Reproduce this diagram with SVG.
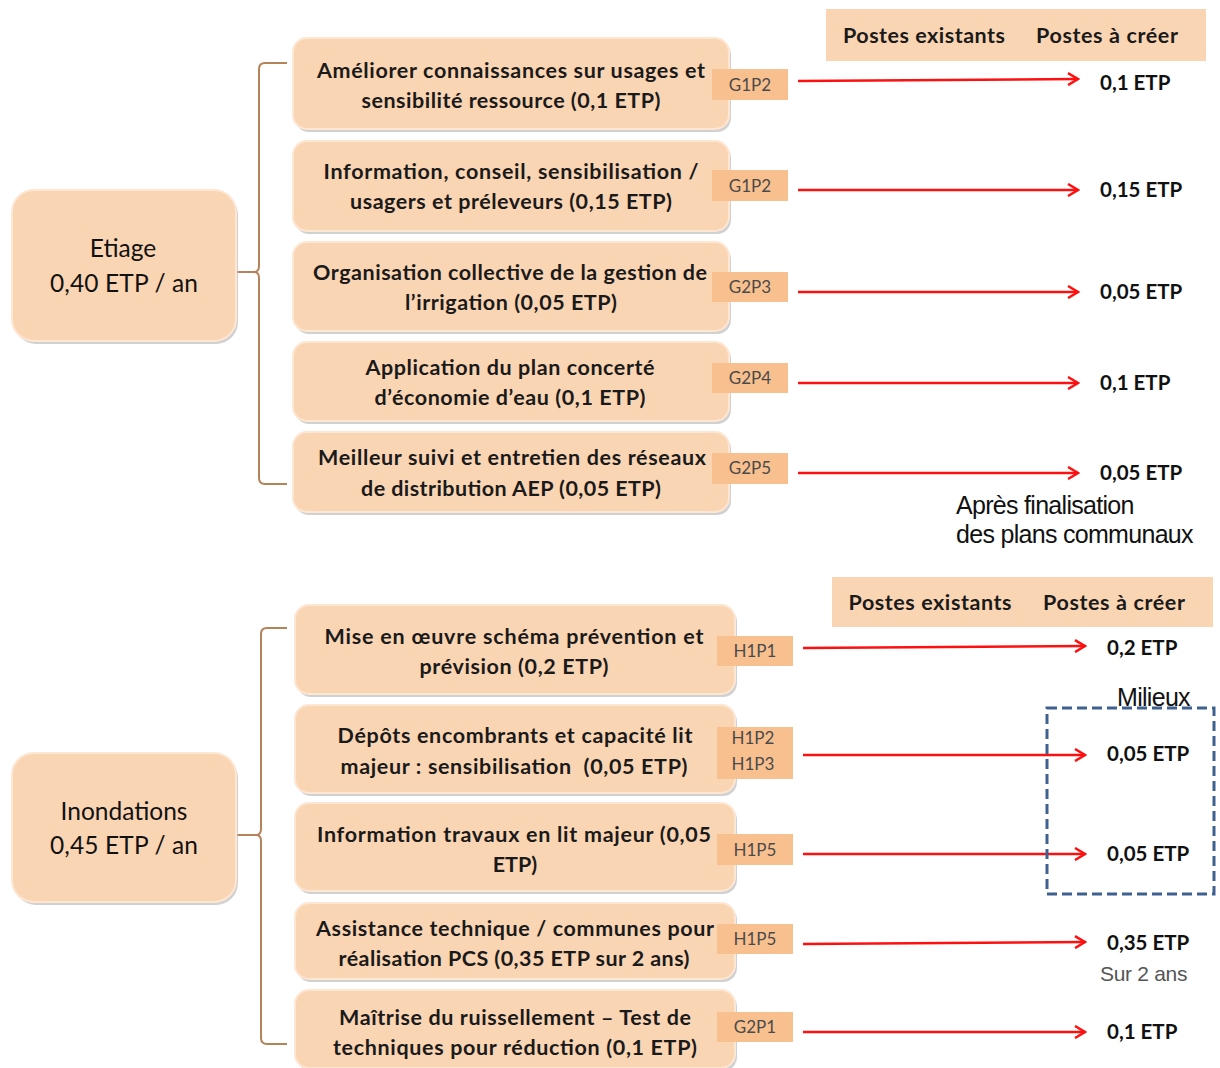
<svg xmlns="http://www.w3.org/2000/svg" width="1220" height="1068" viewBox="0 0 1220 1068">
  <defs>
    <style>
      .box { fill: #FAD5B4; stroke: #FDE6D2; stroke-width: 2; }
      .shadow { fill: #BDBDBD; opacity: 0.7; }
      .tag { fill: #F9C08F; }
      .hdr { fill: #FAD5B4; }
      .t { font-family: Lato, "Liberation Sans", sans-serif; font-weight: bold; font-size: 21.5px; fill: #1a1a1a; text-anchor: middle; }
      .big { font-family: Lato, "Liberation Sans", sans-serif; font-size: 24.5px; fill: #111; text-anchor: middle; }
      .code { font-family: Lato, "Liberation Sans", sans-serif; font-size: 17px; fill: #4a4a4a; text-anchor: middle; }
      .val { font-family: Lato, "Liberation Sans", sans-serif; font-weight: bold; font-size: 20.5px; fill: #111; }
      .note { font-family: "Liberation Sans", Arial, sans-serif; font-size: 25px; fill: #111; letter-spacing: -0.7px; }
      .small { font-family: "Liberation Sans", Arial, sans-serif; font-size: 21px; fill: #555; letter-spacing: -0.3px; }
      .bracket { fill: none; stroke: #B5835A; stroke-width: 2; }
      .arrow { fill: none; stroke: #FF1010; stroke-width: 2.5; marker-end: url(#head); }
    </style>
    <marker id="head" viewBox="0 0 14 14" refX="12" refY="7" markerWidth="14" markerHeight="14" markerUnits="userSpaceOnUse" orient="auto">
      <path d="M2,1 L12,7 L2,13" fill="none" stroke="#FF1010" stroke-width="2.5"/>
    </marker>
  </defs>

  <rect width="1220" height="1068" fill="#ffffff"/>

  <!-- column headers -->
  <g id="header-etiage">
    <rect class="hdr" x="826" y="9" width="380" height="52"/>
    <text class="t" x="924" y="43" textLength="162">Postes existants</text>
    <text class="t" x="1107" y="43" textLength="142">Postes à créer</text>
  </g>
  <g id="header-inondations">
    <rect class="hdr" x="832" y="577" width="381" height="50"/>
    <text class="t" x="930" y="610" textLength="163">Postes existants</text>
    <text class="t" x="1114" y="610" textLength="142">Postes à créer</text>
  </g>

  <!-- connectors -->
  <g id="connectors">
    <path class="bracket" d="M287,63 L265,63 Q259,63 259,69 L259,266 Q259,272 254,272 L236,272 M254,272 Q259,272 259,278 L259,478 Q259,484 265,484 L287,484"/>
    <path class="bracket" d="M287,628 L267,628 Q261,628 261,634 L261,829 Q261,835 256,835 L236,835 M256,835 Q261,835 261,841 L261,1038 Q261,1044 267,1044 L287,1044"/>
    <line class="arrow" x1="798" y1="81" x2="1078" y2="79"/>
    <line class="arrow" x1="798" y1="190" x2="1078" y2="190"/>
    <line class="arrow" x1="798" y1="292" x2="1078" y2="292"/>
    <line class="arrow" x1="798" y1="383" x2="1078" y2="383"/>
    <line class="arrow" x1="798" y1="473" x2="1078" y2="473"/>
    <line class="arrow" x1="803" y1="648" x2="1085" y2="646"/>
    <line class="arrow" x1="803" y1="755" x2="1085" y2="755"/>
    <line class="arrow" x1="803" y1="854" x2="1085" y2="854"/>
    <line class="arrow" x1="803" y1="944" x2="1085" y2="942"/>
    <line class="arrow" x1="803" y1="1032" x2="1085" y2="1032"/>
  </g>

  <!-- Etiage -->
  <g id="etiage">
    <rect class="shadow" x="14" y="193" width="224" height="151" rx="22"/>
    <rect class="box" x="12" y="190" width="224" height="151" rx="22"/>
    <text class="big" x="123" y="257">Etiage</text>
    <text class="big" x="124" y="292" textLength="148">0,40 ETP / an</text>
  </g>

  <g id="e1">
    <rect class="shadow" x="295" y="41" width="436" height="91" rx="14"/>
    <rect class="box" x="293" y="38" width="436" height="91" rx="14"/>
    <text class="t" x="511" y="78" textLength="388">Améliorer connaissances sur usages et</text>
    <text class="t" x="511" y="108" textLength="299">sensibilité ressource (0,1 ETP)</text>
    <rect class="tag" x="712" y="69" width="76" height="31"/>
    <text class="code" x="750" y="91">G1P2</text>
  </g>
  <g id="e2">
    <rect class="shadow" x="295" y="144" width="436" height="90" rx="14"/>
    <rect class="box" x="293" y="141" width="436" height="90" rx="14"/>
    <text class="t" x="511" y="179" textLength="375">Information, conseil, sensibilisation /</text>
    <text class="t" x="511" y="209" textLength="322">usagers et préleveurs (0,15 ETP)</text>
    <rect class="tag" x="712" y="170" width="76" height="31"/>
    <text class="code" x="750" y="192">G1P2</text>
  </g>
  <g id="e3">
    <rect class="shadow" x="295" y="245" width="436" height="89" rx="14"/>
    <rect class="box" x="293" y="242" width="436" height="89" rx="14"/>
    <text class="t" x="510" y="280" textLength="394">Organisation collective de la gestion de</text>
    <text class="t" x="511" y="310" textLength="212">l’irrigation (0,05 ETP)</text>
    <rect class="tag" x="712" y="272" width="76" height="30"/>
    <text class="code" x="750" y="293">G2P3</text>
  </g>
  <g id="e4">
    <rect class="shadow" x="295" y="345" width="436" height="79" rx="14"/>
    <rect class="box" x="293" y="342" width="436" height="79" rx="14"/>
    <text class="t" x="510" y="375" textLength="289">Application du plan concerté</text>
    <text class="t" x="510" y="405" textLength="271">d’économie d’eau (0,1 ETP)</text>
    <rect class="tag" x="712" y="363" width="76" height="30"/>
    <text class="code" x="750" y="384">G2P4</text>
  </g>
  <g id="e5">
    <rect class="shadow" x="295" y="435" width="436" height="80" rx="14"/>
    <rect class="box" x="293" y="432" width="436" height="80" rx="14"/>
    <text class="t" x="512" y="465" textLength="388">Meilleur suivi et entretien des réseaux</text>
    <text class="t" x="511" y="496" textLength="300">de distribution AEP (0,05 ETP)</text>
    <rect class="tag" x="712" y="453" width="76" height="31"/>
    <text class="code" x="750" y="474">G2P5</text>
  </g>

  <g id="etiage-values">
    <text class="val" x="1100" y="90">0,1 ETP</text>
    <text class="val" x="1100" y="197">0,15 ETP</text>
    <text class="val" x="1100" y="299">0,05 ETP</text>
    <text class="val" x="1100" y="390">0,1 ETP</text>
    <text class="val" x="1100" y="480">0,05 ETP</text>
    <text class="note" x="956" y="514">Après finalisation</text>
    <text class="note" x="956" y="543">des plans communaux</text>
  </g>

  <!-- Inondations -->
  <g id="inondations">
    <rect class="shadow" x="14" y="756" width="224" height="149" rx="22"/>
    <rect class="box" x="12" y="753" width="224" height="149" rx="22"/>
    <text class="big" x="124" y="820">Inondations</text>
    <text class="big" x="124" y="854" textLength="148">0,45 ETP / an</text>
  </g>

  <g id="i1">
    <rect class="shadow" x="297" y="608" width="440" height="89" rx="14"/>
    <rect class="box" x="295" y="605" width="440" height="89" rx="14"/>
    <text class="t" x="514" y="644" textLength="379">Mise en œuvre schéma prévention et</text>
    <text class="t" x="514" y="674" textLength="189">prévision (0,2 ETP)</text>
    <rect class="tag" x="717" y="636" width="76" height="30"/>
    <text class="code" x="755" y="657">H1P1</text>
  </g>
  <g id="i2">
    <rect class="shadow" x="297" y="708" width="440" height="88" rx="14"/>
    <rect class="box" x="295" y="705" width="440" height="88" rx="14"/>
    <text class="t" x="515" y="743" textLength="355">Dépôts encombrants et capacité lit</text>
    <text class="t" x="514" y="774" textLength="347" xml:space="preserve">majeur : sensibilisation  (0,05 ETP)</text>
    <rect class="tag" x="717" y="727" width="76" height="52"/>
    <text class="code" x="753" y="744">H1P2</text>
    <text class="code" x="753" y="770">H1P3</text>
  </g>
  <g id="i3">
    <rect class="shadow" x="297" y="806" width="440" height="88" rx="14"/>
    <rect class="box" x="295" y="803" width="440" height="88" rx="14"/>
    <text class="t" x="514" y="842" textLength="394">Information travaux en lit majeur (0,05</text>
    <text class="t" x="515" y="872">ETP)</text>
    <rect class="tag" x="717" y="834" width="76" height="31"/>
    <text class="code" x="755" y="856">H1P5</text>
  </g>
  <g id="i4">
    <rect class="shadow" x="297" y="906" width="440" height="76" rx="14"/>
    <rect class="box" x="295" y="903" width="440" height="76" rx="14"/>
    <text class="t" x="515" y="936" textLength="398">Assistance technique / communes pour</text>
    <text class="t" x="514" y="966" textLength="351">réalisation PCS (0,35 ETP sur 2 ans)</text>
    <rect class="tag" x="717" y="924" width="76" height="30"/>
    <text class="code" x="755" y="945">H1P5</text>
  </g>
  <g id="i5">
    <rect class="shadow" x="297" y="993" width="440" height="78" rx="14"/>
    <rect class="box" x="295" y="990" width="440" height="78" rx="14"/>
    <text class="t" x="515" y="1025" textLength="352">Maîtrise du ruissellement – Test de</text>
    <text class="t" x="515" y="1055" textLength="364">techniques pour réduction (0,1 ETP)</text>
    <rect class="tag" x="717" y="1012" width="76" height="30"/>
    <text class="code" x="755" y="1033">G2P1</text>
  </g>

  <g id="milieux">
    <rect x="1047" y="708" width="167" height="186" fill="none" stroke="#3F6190" stroke-width="3" stroke-dasharray="10 5"/>
    <text class="note" x="1117" y="706">Milieux</text>
  </g>

  <g id="inondations-values">
    <text class="val" x="1107" y="655">0,2 ETP</text>
    <text class="val" x="1107" y="761">0,05 ETP</text>
    <text class="val" x="1107" y="861">0,05 ETP</text>
    <text class="val" x="1107" y="950">0,35 ETP</text>
    <text class="small" x="1100" y="981">Sur 2 ans</text>
    <text class="val" x="1107" y="1039">0,1 ETP</text>
  </g>
</svg>
